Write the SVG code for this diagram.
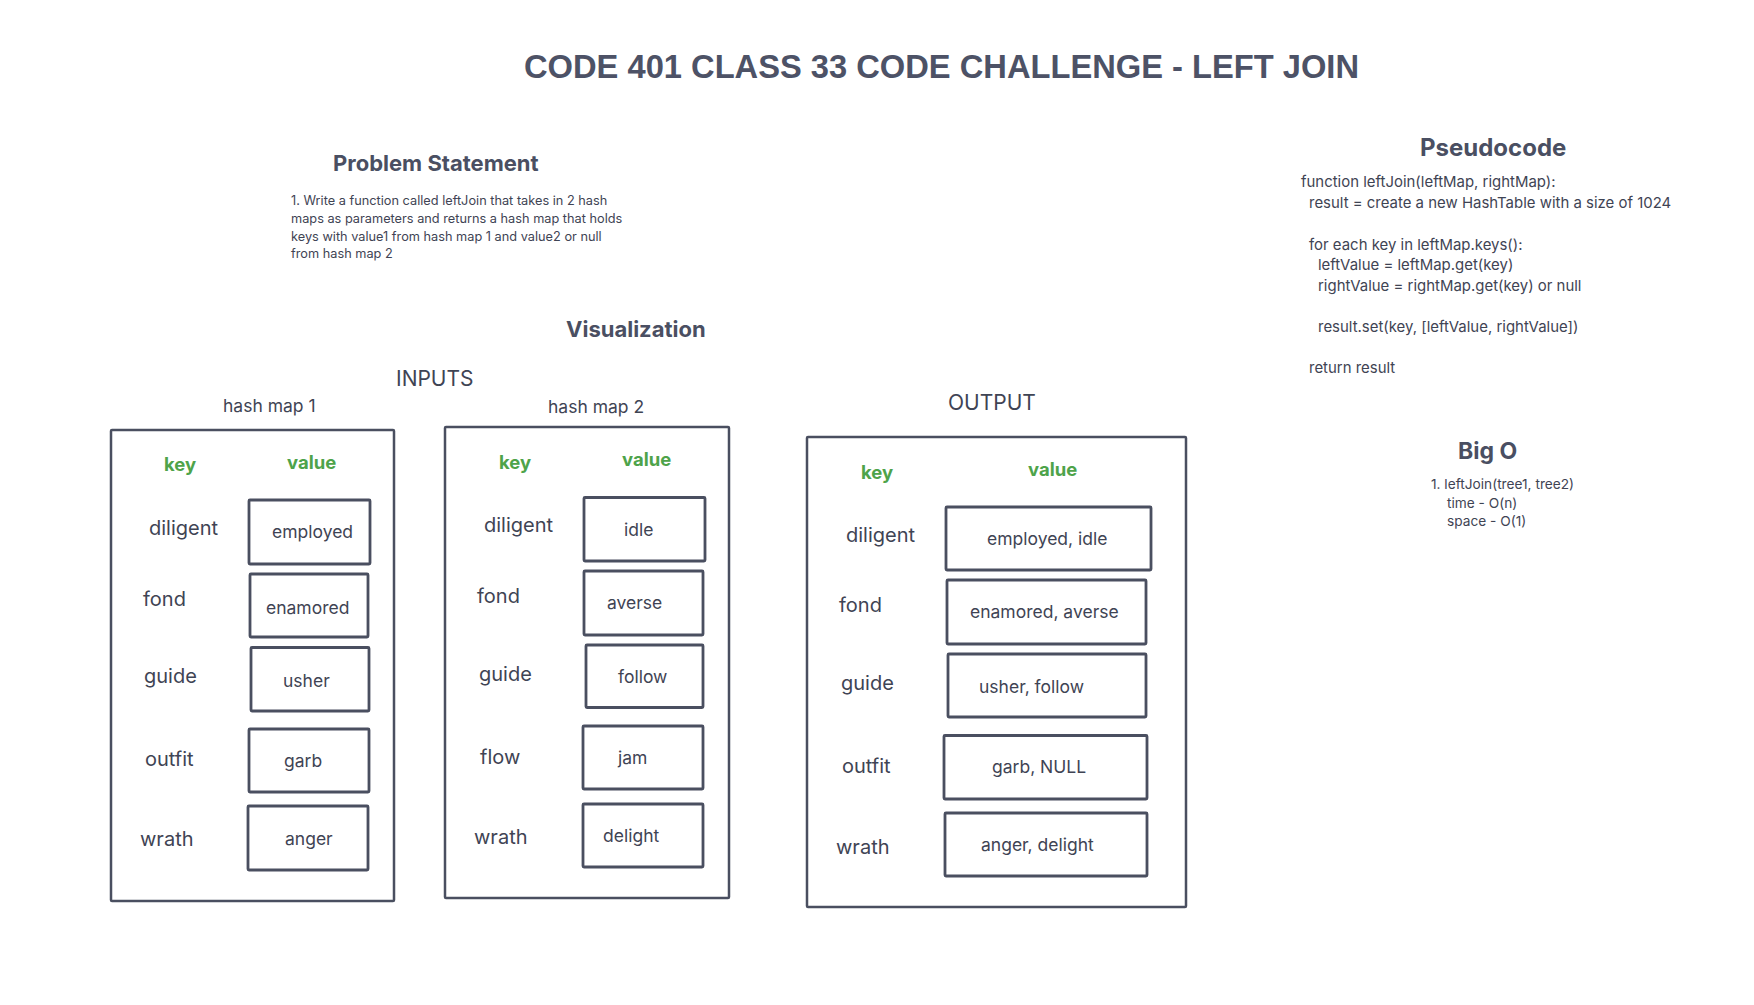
<svg xmlns="http://www.w3.org/2000/svg" width="1754" height="1005" viewBox="0 0 1754 1005">
<style>
.bg{fill:#ffffff}
.title{font-family:"Liberation Sans",Arial,sans-serif;font-weight:bold;font-size:33px;fill:#4d5266}
.h{font-family:Inter,"Noto Sans",sans-serif;font-weight:bold;fill:#4a4f62}
.t{font-family:Inter,"Noto Sans",sans-serif;fill:#3f4454}
.lbl{font-family:Inter,"Noto Sans",sans-serif;fill:#3f4454}
.g{font-family:Inter,"Noto Sans",sans-serif;font-weight:bold;font-size:18.5px;fill:#4ea34a}
.key{font-size:20px}
.val{font-size:17.5px}
.frame{fill:none;stroke:#4a4f60;stroke-width:2.5}
.cell{fill:none;stroke:#4a4f60;stroke-width:2.8}
</style>
<rect class="bg" x="0" y="0" width="1754" height="1005"/>

<g id="title"><text class="title" x="524" y="78" textLength="835" lengthAdjust="spacingAndGlyphs">CODE 401 CLASS 33 CODE CHALLENGE - LEFT JOIN</text></g>

<g id="problem-statement">
<text class="h" x="333" y="171" font-size="22">Problem Statement</text>
<text class="t" font-size="12.75"><tspan x="291" y="205">1. Write a function called leftJoin that takes in 2 hash</tspan><tspan x="291" y="223">maps as parameters and returns a hash map that holds</tspan><tspan x="291" y="241">keys with value1 from hash map 1 and value2 or null</tspan><tspan x="291" y="258">from hash map 2</tspan></text>
</g>

<g id="pseudocode">
<text class="h" x="1420" y="156" font-size="24">Pseudocode</text>
<text class="t" font-size="14.95"><tspan x="1301" y="187">function leftJoin(leftMap, rightMap):</tspan><tspan x="1309" y="208">result = create a new HashTable with a size of 1024</tspan><tspan x="1309" y="249.5">for each key in leftMap.keys():</tspan><tspan x="1318" y="270">leftValue = leftMap.get(key)</tspan><tspan x="1318" y="290.5">rightValue = rightMap.get(key) or null</tspan><tspan x="1318" y="331.5">result.set(key, [leftValue, rightValue])</tspan><tspan x="1309" y="372.5">return result</tspan></text>
</g>

<g id="big-o">
<text class="h" x="1458" y="459" font-size="23">Big O</text>
<text class="t" font-size="13.7"><tspan x="1431" y="489">1. leftJoin(tree1, tree2)</tspan><tspan x="1447" y="508">time - O(n)</tspan><tspan x="1447" y="526">space - O(1)</tspan></text>
</g>

<g id="visualization-label"><text class="h" x="566" y="337" font-size="22">Visualization</text></g>
<g id="inputs-label"><text class="lbl" x="396" y="386" font-size="21">INPUTS</text></g>
<g id="output-label"><text class="lbl" x="948" y="410" font-size="21">OUTPUT</text></g>

<g id="hash-map-1">
<text class="lbl" x="223" y="412" font-size="17.5">hash map 1</text>
<rect class="frame" x="111" y="430" width="283" height="471" rx="1"/>
<text class="g" x="164" y="471">key</text>
<text class="g" x="287" y="469">value</text>
<g id="hm1-diligent"><text class="t key" x="149" y="535">diligent</text><rect class="cell" x="249" y="500" width="121" height="64" rx="1"/><text class="t val" x="272" y="537.5">employed</text></g>
<g id="hm1-fond"><text class="t key" x="143" y="606">fond</text><rect class="cell" x="250" y="574" width="118" height="63" rx="1"/><text class="t val" x="266" y="614">enamored</text></g>
<g id="hm1-guide"><text class="t key" x="144" y="683">guide</text><rect class="cell" x="251" y="647.5" width="118" height="63.5" rx="1"/><text class="t val" x="283" y="687">usher</text></g>
<g id="hm1-outfit"><text class="t key" x="145" y="766">outfit</text><rect class="cell" x="249" y="729" width="120" height="63" rx="1"/><text class="t val" x="284" y="767">garb</text></g>
<g id="hm1-wrath"><text class="t key" x="140" y="846">wrath</text><rect class="cell" x="248" y="806" width="120" height="64" rx="1"/><text class="t val" x="285" y="845">anger</text></g>
</g>

<g id="hash-map-2">
<text class="lbl" x="548" y="413" font-size="17.5">hash map 2</text>
<rect class="frame" x="445" y="427" width="284" height="471" rx="1"/>
<text class="g" x="499" y="469">key</text>
<text class="g" x="622" y="466">value</text>
<g id="hm2-diligent"><text class="t key" x="484" y="532">diligent</text><rect class="cell" x="584" y="497.5" width="121" height="63.5" rx="1"/><text class="t val" x="624" y="536">idle</text></g>
<g id="hm2-fond"><text class="t key" x="477" y="603">fond</text><rect class="cell" x="584" y="571" width="119" height="64" rx="1"/><text class="t val" x="607" y="609">averse</text></g>
<g id="hm2-guide"><text class="t key" x="479" y="681">guide</text><rect class="cell" x="586" y="645" width="117" height="62.5" rx="1"/><text class="t val" x="618" y="683">follow</text></g>
<g id="hm2-flow"><text class="t key" x="480" y="764">flow</text><rect class="cell" x="583" y="726" width="120" height="63" rx="1"/><text class="t val" x="618" y="764">jam</text></g>
<g id="hm2-wrath"><text class="t key" x="474" y="844">wrath</text><rect class="cell" x="583" y="804" width="120" height="63" rx="1"/><text class="t val" x="603" y="842">delight</text></g>
</g>

<g id="output-map">
<rect class="frame" x="807" y="437" width="379" height="470" rx="1"/>
<text class="g" x="861" y="479">key</text>
<text class="g" x="1028" y="476">value</text>
<g id="out-diligent"><text class="t key" x="846" y="542">diligent</text><rect class="cell" x="946" y="507" width="205" height="63" rx="1"/><text class="t val" x="987" y="545">employed, idle</text></g>
<g id="out-fond"><text class="t key" x="839" y="612">fond</text><rect class="cell" x="947" y="580" width="199" height="64" rx="1"/><text class="t val" x="970" y="618">enamored, averse</text></g>
<g id="out-guide"><text class="t key" x="841" y="690">guide</text><rect class="cell" x="948" y="654" width="198" height="63" rx="1"/><text class="t val" x="979" y="693">usher, follow</text></g>
<g id="out-outfit"><text class="t key" x="842" y="773">outfit</text><rect class="cell" x="944" y="735.5" width="203" height="63.5" rx="1"/><text class="t val" x="992" y="773">garb, NULL</text></g>
<g id="out-wrath"><text class="t key" x="836" y="854">wrath</text><rect class="cell" x="945" y="813" width="202" height="63" rx="1"/><text class="t val" x="981" y="851">anger, delight</text></g>
</g>

<g id="connectors"></g>
</svg>
